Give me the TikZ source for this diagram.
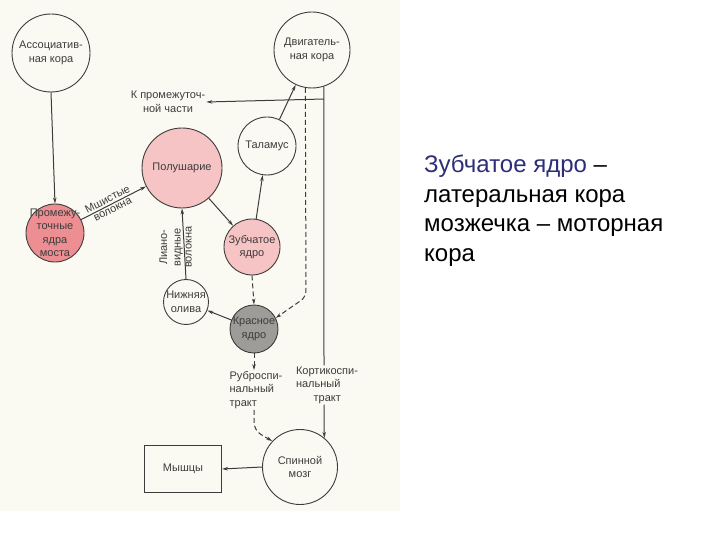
\documentclass[tikz,border=0pt]{standalone}
\usepackage{fontspec}
\setmainfont{Liberation Sans}
\usepackage{tikz}
\usetikzlibrary{arrows.meta,positioning,calc}
\usepackage{xcolor}
\definecolor{cScan}{RGB}{251,250,242}
\definecolor{cPinkL}{RGB}{246,196,196}
\definecolor{cPinkD}{RGB}{237,142,146}
\definecolor{cGrayN}{RGB}{158,156,153}
\definecolor{cInk}{RGB}{60,60,60}
\definecolor{cTitle}{RGB}{45,45,120}
\newcommand{\dfont}{\fontsize{11}{13.5}\selectfont}
\tikzset{
  basecirc/.style={circle,draw=cInk,line width=0.9pt,align=center,
                   font=\dfont,text=cInk,inner sep=-5pt},
  whitenode/.style={basecirc,fill=cScan},
  pinknode/.style={basecirc,fill=cPinkL},
  rosenode/.style={basecirc,fill=cPinkD},
  graynode/.style={basecirc,fill=cGrayN},
  boxnode/.style={rectangle,draw=cInk,line width=0.9pt,font=\dfont,
                  text=cInk,minimum width=77pt,minimum height=47pt},
  lbl/.style={font=\dfont,text=cInk,align=center,inner sep=1pt},
  arr/.style={->,>={Stealth[length=6pt,width=3.5pt]},line width=1pt,color=cInk},
  dasharr/.style={arr,dash pattern=on 5pt off 3pt},
  plainln/.style={line width=1pt,color=cInk}
}

\begin{document}
\begin{tikzpicture}[x=1pt,y=-1pt]

  % page and scanned area
  \useasboundingbox (0,0) rectangle (720,540);
  \fill[white] (0,0) rectangle (720,540);
  \fill[cScan] (0,0) rectangle (400,511);

  % cortex
  \node[whitenode,minimum size=78pt] (assoc) at (51,53) {Ассоциатив-\\ная кора};
  \node[whitenode,minimum size=76pt] (motor) at (312,50) {Двигатель-\\ная кора};
  \node[lbl] (inter) at (168,102) {К промежуточ-\\ной части};

  % cerebellum and nuclei
  \node[whitenode,minimum size=58pt] (thal) at (267,146) {Таламус};
  \node[pinknode,minimum size=80pt] (hemi) at (182,168) {Полушарие};
  \node[rosenode,minimum size=58pt] (pons) at (55,233) {Промежу-\\точные\\ядра\\моста};
  \node[pinknode,minimum size=56pt] (dent) at (252,247) {Зубчатое\\ядро};
  \node[whitenode,minimum size=45pt] (olive) at (186,302) {Нижняя\\олива};
  \node[graynode,minimum size=48pt] (red) at (254,329) {Красное\\ядро};

  % tracts
  \node[lbl,align=left] (rtract) at (256,390) {Руброспи-\\нальный\\тракт};
  \node[lbl,align=left] (ctract) at (327,385) {Кортикоспи-\\нальный\\\hspace*{1.6em}тракт};

  % output
  \node[whitenode,minimum size=75pt] (spinal) at (300,467) {Спинной\\мозг};
  \node[boxnode] (muscle) at (183,469) {Мышцы};

  \coordinate (dbend) at (306,297);
  \coordinate (cbr) at (324,99);

  \draw[arr] (assoc.south) -- (pons.north);
  \draw[arr] (pons) -- (hemi)
      node[lbl,pos=0.45,rotate=27,anchor=south,inner sep=2pt]{Мшистые}
      node[lbl,pos=0.45,rotate=27,anchor=north,inner sep=2pt]{волокна};
  \draw[arr] (olive.north) -- (hemi.south)
      node[lbl,pos=0.45,rotate=90,anchor=south]{Лиано-\\видные}
      node[lbl,pos=0.45,rotate=90,anchor=north]{волокна};
  \draw[arr] (hemi) -- (dent);
  \draw[arr] (dent) -- (thal);
  \draw[arr] (thal) -- (motor);
  \draw[dasharr] (dent.south) -- (red.north);
  \draw[arr] (red) -- (olive);
  \draw[dasharr,rounded corners=6pt] (motor.260) -- (dbend) -- (red.27);
  \draw[plainln] (motor.288) -- (ctract.north -| cbr);
  \draw[arr] (cbr) -- (inter.east);
  \draw[arr,rounded corners=8pt] (ctract.south -| cbr) -- ($(cbr)+(0,327)$) -- (spinal.50);
  \draw[dasharr] (red.south) -- (rtract.north -| red.south);
  \draw[dasharr,rounded corners=8pt] (rtract.south -| red.south) -- ($(red.south)+(0,77)$) -- (spinal.137);
  \draw[arr] (spinal.west) -- (muscle.east);

  % slide text
  \node[anchor=north west,align=left,inner sep=0,
        font=\fontsize{24}{29.5}\selectfont] (note) at (424,155)
      {\textcolor{cTitle}{Зубчатое ядро} –\\латеральная кора\\мозжечка – моторная\\кора};

\end{tikzpicture}
\end{document}
